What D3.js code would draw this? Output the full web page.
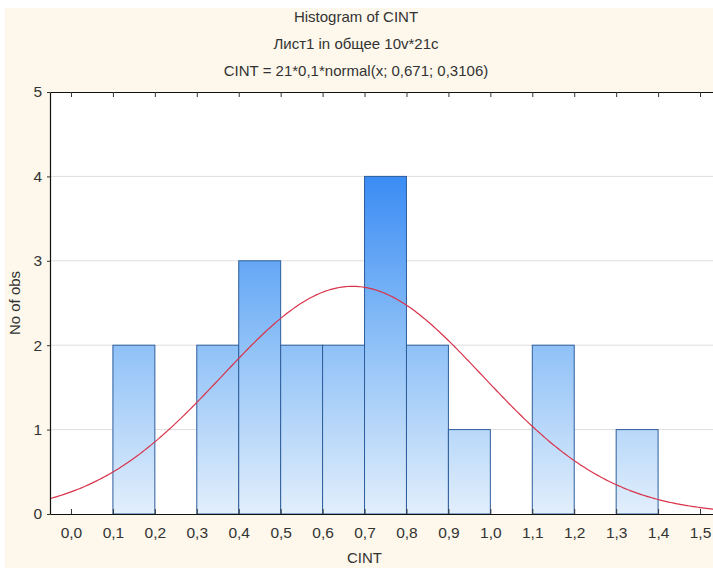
<!DOCTYPE html>
<html>
<head>
<meta charset="utf-8">
<script src="https://cdn.jsdelivr.net/npm/d3@7"></script>
<style>
  html, body { margin: 0; padding: 0; background: #ffffff; overflow: hidden; }
  svg { display: block; font-family: "Liberation Sans", Arial, sans-serif; }
</style>
</head>
<body>
<svg id="chart" width="713" height="568"></svg>
<script>
// Histogram bins (lower edge, upper edge) and observation counts
const binStarts = [0.1, 0.3, 0.4, 0.5, 0.6, 0.7, 0.8, 0.9, 1.1, 1.3];
const binEnds   = [0.2, 0.4, 0.5, 0.6, 0.7, 0.8, 0.9, 1.0, 1.2, 1.4];
const counts    = [2,   2,   3,   2,   2,   4,   2,   1,   2,   1];

// Fitted normal curve: N * binWidth * normal(x; mean, sd)
const nObs = 21;
const binWidth = 0.1;
const fitMean = 0.671;
const fitSd = 0.3106;

const xTickValues = [0, 0.1, 0.2, 0.3, 0.4, 0.5, 0.6, 0.7, 0.8, 0.9, 1.0, 1.1, 1.2, 1.3, 1.4, 1.5];
const yTickValues = [0, 1, 2, 3, 4, 5];

const titleLines = [
  "Histogram of CINT",
  "Лист1 in общее 10v*21c",
  "CINT = 21*0,1*normal(x; 0,671; 0,3106)"
];

const svg = d3.select("#chart");
const W = 713, H = 568;
const plot = { left: 50, top: 92, right: 721, bottom: 514 };
const textColor = "#333";

// Cream page background
svg.append("rect").attr("x", 5).attr("y", 8).attr("width", W - 5).attr("height", H - 8)
  .attr("fill", "#fdf8eb");

const x = d3.scaleLinear().domain([-0.05, 1.55]).range([plot.left, plot.right]);
const y = d3.scaleLinear().domain([0, 5]).range([plot.bottom, plot.top]);

// Plot area
svg.append("rect")
  .attr("x", plot.left).attr("y", plot.top)
  .attr("width", plot.right - plot.left).attr("height", plot.bottom - plot.top)
  .attr("fill", "#ffffff");

// Horizontal grid
svg.append("g").selectAll("line")
  .data(yTickValues.filter(v => v > 0 && v < 5))
  .join("line")
  .attr("x1", plot.left).attr("x2", plot.right)
  .attr("y1", d => y(d)).attr("y2", d => y(d))
  .attr("stroke", "#dedede").attr("stroke-width", 1);

// Vertical blue gradient shared by all bars
const defs = svg.append("defs");
const grad = defs.append("linearGradient")
  .attr("id", "barGrad")
  .attr("gradientUnits", "userSpaceOnUse")
  .attr("x1", 0).attr("x2", 0)
  .attr("y1", y(0)).attr("y2", y(4));
grad.append("stop").attr("offset", "0%").attr("stop-color", "#e2effc");
grad.append("stop").attr("offset", "50%").attr("stop-color", "#8fc1f7");
grad.append("stop").attr("offset", "100%").attr("stop-color", "#3a8cf4");

const bins = counts.map((c, i) => ({ x0: binStarts[i], x1: binEnds[i], n: c }));

svg.append("g").selectAll("rect")
  .data(bins)
  .join("rect")
  .attr("x", d => x(d.x0))
  .attr("y", d => y(d.n))
  .attr("width", d => x(d.x1) - x(d.x0))
  .attr("height", d => y(0) - y(d.n))
  .attr("fill", "url(#barGrad)")
  .attr("stroke", "#2d5d9c")
  .attr("stroke-width", 1);

// Normal curve
const xs = d3.range(-0.05, 1.5501, 0.005);
const normal = v => nObs * binWidth * Math.exp(-0.5 * ((v - fitMean) / fitSd) ** 2) / (fitSd * Math.sqrt(2 * Math.PI));
svg.append("path")
  .datum(xs)
  .attr("fill", "none")
  .attr("stroke", "#d8334a")
  .attr("stroke-width", 1.2)
  .attr("d", d3.line().x(d => x(d)).y(d => y(normal(d))));

// Axes
const fmt = d => d3.format(".1f")(d).replace(".", ",");
const bottomAxis = svg.append("g")
  .attr("transform", `translate(0,${plot.bottom})`)
  .call(d3.axisBottom(x).tickValues(xTickValues).tickFormat(fmt).tickSizeInner(-5).tickSizeOuter(0).tickPadding(13));
const topAxis = svg.append("g")
  .attr("transform", `translate(0,${plot.top})`)
  .call(d3.axisTop(x).tickValues(xTickValues).tickFormat("").tickSizeInner(-5).tickSizeOuter(0));
const leftAxis = svg.append("g")
  .attr("transform", `translate(${plot.left},0)`)
  .call(d3.axisLeft(y).tickValues(yTickValues).tickFormat(d3.format("d")).tickSizeInner(3).tickSizeOuter(0).tickPadding(5));

[bottomAxis, topAxis, leftAxis].forEach(g => {
  g.select(".domain").attr("stroke", "#111").attr("stroke-width", 1.2);
  g.selectAll(".tick line").attr("stroke", "#333");
  g.selectAll(".tick text").attr("fill", textColor).style("font-size", "15.5px")
    .style("font-family", "'Liberation Sans', Arial, sans-serif");
});

// Titles
svg.append("g").selectAll("text")
  .data(titleLines)
  .join("text")
  .attr("x", 356)
  .attr("y", (d, i) => 22 + i * 27)
  .attr("text-anchor", "middle")
  .attr("fill", textColor)
  .style("font-size", "15px")
  .text(d => d);

// Axis titles
svg.append("text")
  .attr("x", x(0.7))
  .attr("y", 563)
  .attr("text-anchor", "middle")
  .attr("fill", textColor)
  .style("font-size", "15px")
  .text("CINT");

svg.append("text")
  .attr("transform", `translate(20,${(plot.top + plot.bottom) / 2}) rotate(-90)`)
  .attr("text-anchor", "middle")
  .attr("fill", textColor)
  .style("font-size", "15px")
  .text("No of obs");
</script>
</body>
</html>
